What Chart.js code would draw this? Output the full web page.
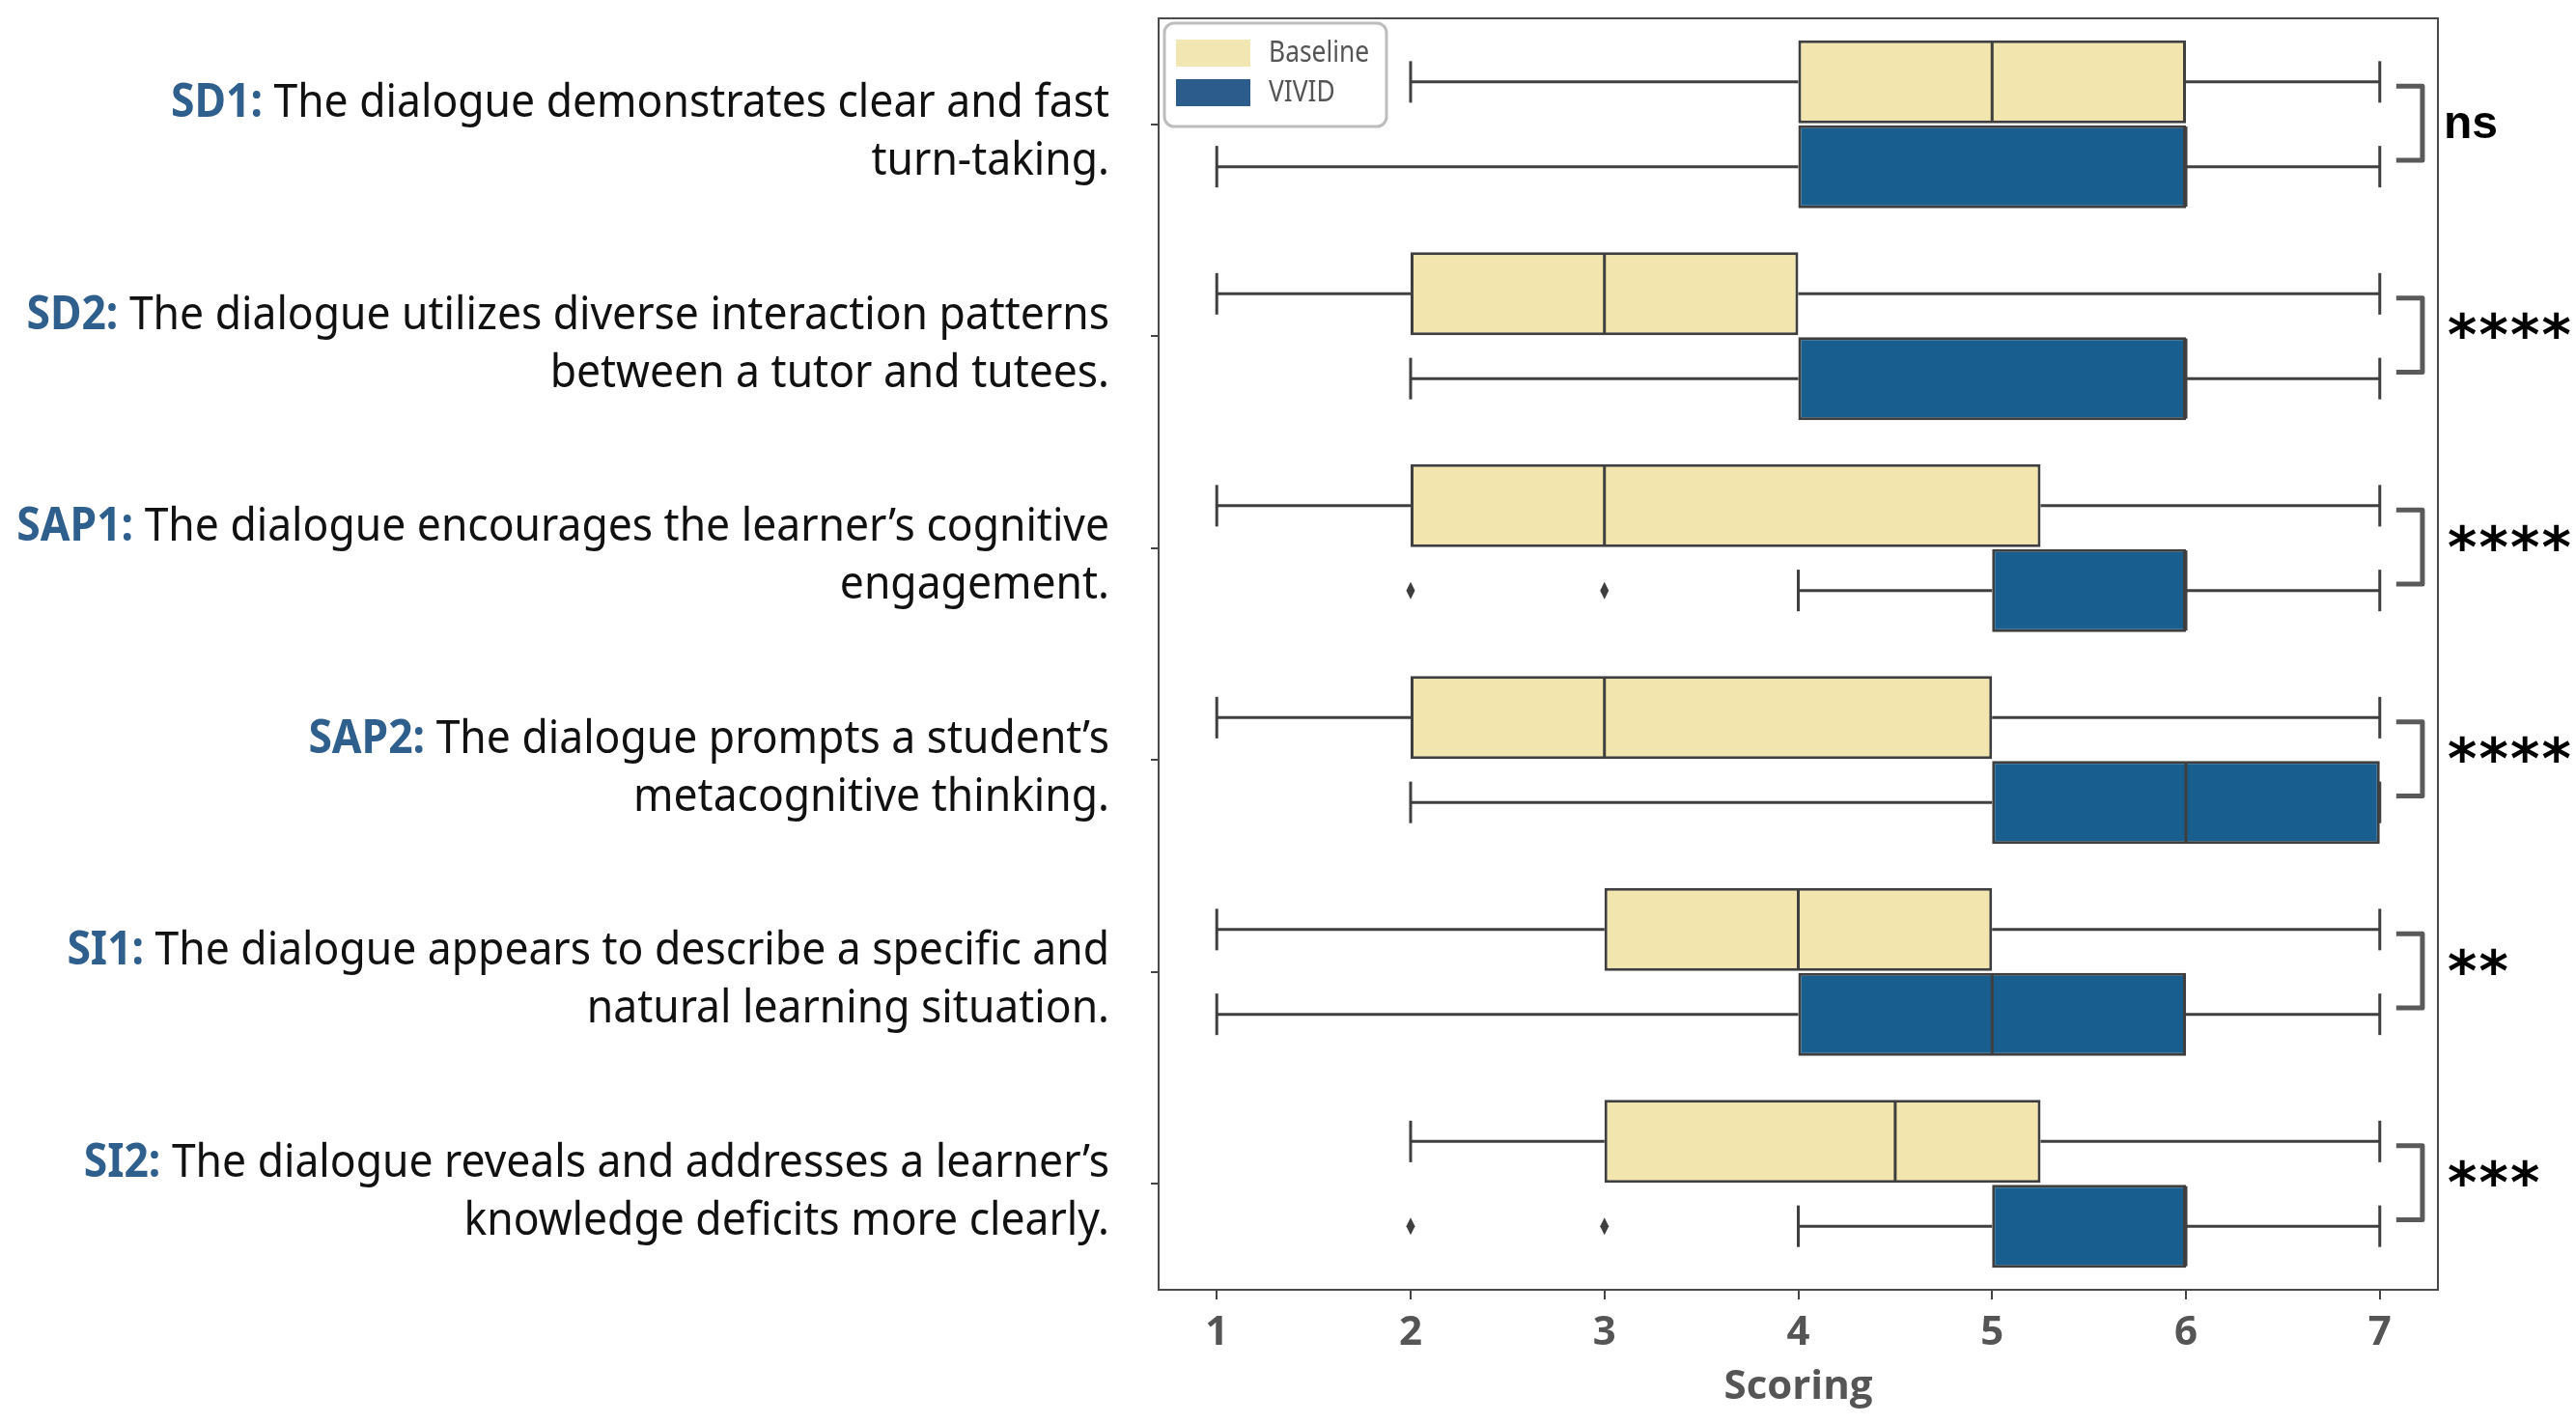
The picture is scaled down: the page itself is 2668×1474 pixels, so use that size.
<!DOCTYPE html>
<html>
<head>
<meta charset="utf-8">
<script src="https://cdn.jsdelivr.net/npm/chart.js@4.4.0/dist/chart.umd.min.js"></script>
<style>
    html, body { margin: 0; padding: 0; background: #fff; }
    #wrap { width: 2668px; height: 1474px; position: relative; }
</style>
</head>
<body>
<div id="wrap"><canvas id="box-chart"></canvas></div>
<script>
/* data */
var items = ['SD1', 'SD2', 'SAP1', 'SAP2', 'SI1', 'SI2'];
var itemText = [
    ['The dialogue demonstrates clear and fast', 'turn-taking.'],
    ['The dialogue utilizes diverse interaction patterns', 'between a tutor and tutees.'],
    ['The dialogue encourages the learner\u2019s cognitive', 'engagement.'],
    ['The dialogue prompts a student\u2019s', 'metacognitive thinking.'],
    ['The dialogue appears to describe a specific and', 'natural learning situation.'],
    ['The dialogue reveals and addresses a learner\u2019s', 'knowledge deficits more clearly.']
];
// [whisker low, q1, median, q3, whisker high]
var baselineStats = [
    [2, 4, 5, 6, 7],
    [1, 2, 3, 4, 7],
    [1, 2, 3, 5.25, 7],
    [1, 2, 3, 5, 7],
    [1, 3, 4, 5, 7],
    [2, 3, 4.5, 5.25, 7]
];
var vividStats = [
    [1, 4, 6, 6, 7],
    [2, 4, 6, 6, 7],
    [4, 5, 6, 6, 7],
    [2, 5, 6, 7, 7],
    [1, 4, 5, 6, 7],
    [4, 5, 6, 6, 7]
];
var baselineOutliers = [[], [], [], [], [], []];
var vividOutliers = [[], [], [2, 3], [], [], [2, 3]];
var significance = ['ns', '****', '****', '****', '**', '***'];
var xTicks = [1, 2, 3, 4, 5, 6, 7];

var edgeColor = '#3f3f3f';
var baselineFill = '#f2e6ae';
var vividFill = '#185e8f';

function drawLine(ctx, x0, y0, x1, y1) {
    ctx.beginPath();
    ctx.moveTo(x0, y0);
    ctx.lineTo(x1, y1);
    ctx.stroke();
}

// whiskers, caps, medians and outliers on top of the q1-q3 bars
var boxExtras = {
    id: 'boxExtras',
    afterDatasetsDraw: function (chart) {
        var ctx = chart.ctx;
        var xs = chart.scales.x;
        var groups = [[baselineStats, baselineOutliers], [vividStats, vividOutliers]];
        ctx.save();
        groups.forEach(function (g, d) {
            var meta = chart.getDatasetMeta(d);
            meta.data.forEach(function (bar, i) {
                var s = g[0][i];
                var y = bar.y;
                var h = bar.height;
                var px = s.map(function (v) { return xs.getPixelForValue(v); });
                ctx.strokeStyle = edgeColor;
                ctx.lineWidth = 3;
                drawLine(ctx, px[0], y, px[1], y);
                drawLine(ctx, px[3], y, px[4], y);
                drawLine(ctx, px[0], y - h / 4, px[0], y + h / 4);
                drawLine(ctx, px[4], y - h / 4, px[4], y + h / 4);
                drawLine(ctx, px[2], y - h / 2 + 1.5, px[2], y + h / 2 - 1.5);
                ctx.fillStyle = edgeColor;
                g[1][i].forEach(function (v) {
                    var ox = xs.getPixelForValue(v);
                    ctx.beginPath();
                    ctx.moveTo(ox, y - 9);
                    ctx.lineTo(ox + 4.5, y);
                    ctx.lineTo(ox, y + 9);
                    ctx.lineTo(ox - 4.5, y);
                    ctx.closePath();
                    ctx.fill();
                });
            });
        });
        ctx.restore();
    },
    afterDraw: function (chart) {
        var ctx = chart.ctx;
        var area = chart.chartArea;
        var xs = chart.scales.x;
        var ys = chart.scales.y;
        var step = ys.getPixelForValue(1) - ys.getPixelForValue(0);
        ctx.save();

        // frame
        ctx.strokeStyle = '#4a4a4a';
        ctx.lineWidth = 2;
        ctx.strokeRect(area.left, area.top, area.right - area.left, area.bottom - area.top);

        // significance brackets
        var bx0 = xs.getPixelForValue(7.085);
        var bx1 = xs.getPixelForValue(7.22);
        items.forEach(function (it, i) {
            var yc = ys.getPixelForValue(i);
            var y0 = yc - 0.18 * step;
            var y1 = yc + 0.17 * step;
            ctx.strokeStyle = '#5a5a5a';
            ctx.lineWidth = 5;
            ctx.lineJoin = 'round';
            ctx.beginPath();
            ctx.moveTo(bx0, y0);
            ctx.lineTo(bx1, y0);
            ctx.lineTo(bx1, y1);
            ctx.lineTo(bx0, y1);
            ctx.stroke();

            var tx = area.right + 6;
            var ty = (y0 + y1) / 2;
            ctx.fillStyle = '#000';
            ctx.textBaseline = 'middle';
            ctx.textAlign = 'left';
            if (significance[i] === 'ns') {
                ctx.font = 'bold 48px "Liberation Sans"';
                ctx.fillText('ns', tx, ty + 2);
            } else {
                ctx.font = 'bold 58px "DejaVu Sans"';
                for (var k = 0; k < significance[i].length; k++) {
                    ctx.fillText('*', tx + 4 + k * 32.5, ty + 5);
                }
            }
        });

        // category labels, right aligned left of the axis
        var rightX = 1149;
        ctx.font = '48px "Noto Sans"';
        var ref = ctx.measureText(itemText[0][0]).width;
        ctx.font = 'bold 48px "Noto Sans"';
        ref += ctx.measureText(items[0] + ': ').width;
        var sx = 972 / ref;
        items.forEach(function (it, i) {
            var yc = ys.getPixelForValue(i);
            ctx.textBaseline = 'middle';
            ctx.textAlign = 'left';
            ctx.font = '48px "Noto Sans"';
            var w1 = ctx.measureText(itemText[i][0]).width;
            var w2 = ctx.measureText(itemText[i][1]).width;
            ctx.font = 'bold 48px "Noto Sans"';
            var wp = ctx.measureText(it + ': ').width;

            ctx.save();
            ctx.translate(rightX, yc - 21);
            ctx.scale(sx, 1);
            ctx.font = 'bold 48px "Noto Sans"';
            ctx.fillStyle = '#2e5f8d';
            ctx.fillText(it + ':', -(w1 + wp), 0);
            ctx.font = '48px "Noto Sans"';
            ctx.fillStyle = '#111';
            ctx.fillText(itemText[i][0], -w1, 0);
            ctx.restore();

            ctx.save();
            ctx.translate(rightX, yc + 39);
            ctx.scale(sx, 1);
            ctx.font = '48px "Noto Sans"';
            ctx.fillStyle = '#111';
            ctx.fillText(itemText[i][1], -w2, 0);
            ctx.restore();
        });

        // legend box in the upper left corner of the plot
        var lx = area.left + 6;
        var ly = area.top + 5;
        ctx.fillStyle = 'rgba(255,255,255,0.85)';
        ctx.strokeStyle = '#bdbdbd';
        ctx.lineWidth = 3;
        ctx.beginPath();
        ctx.roundRect(lx, ly, 230, 107, 10);
        ctx.fill();
        ctx.stroke();
        var names = ['Baseline', 'VIVID'];
        var patches = ['#f2e7b3', '#2c5c8b'];
        names.forEach(function (n, k) {
            var py = ly + 17 + k * 41;
            ctx.fillStyle = patches[k];
            ctx.fillRect(lx + 12, py, 77, 28);
            ctx.save();
            ctx.translate(lx + 108, py + 14);
            ctx.scale(0.85, 1);
            ctx.font = '31px "Noto Sans"';
            ctx.fillStyle = '#555';
            ctx.textBaseline = 'middle';
            ctx.fillText(n, 0, 0);
            ctx.restore();
        });
        ctx.restore();
    }
};

var config = {
    type: 'bar',
    data: {
        labels: items,
        datasets: [{
            label: 'Baseline',
            data: baselineStats.map(function (s) { return [s[1], s[3]]; }),
            backgroundColor: baselineFill,
            borderColor: edgeColor,
            borderWidth: 3,
            borderSkipped: false,
            categoryPercentage: 0.8,
            barPercentage: 0.98
        }, {
            label: 'VIVID',
            data: vividStats.map(function (s) { return [s[1], s[3]]; }),
            backgroundColor: vividFill,
            borderColor: edgeColor,
            borderWidth: 3,
            borderSkipped: false,
            categoryPercentage: 0.8,
            barPercentage: 0.98
        }]
    },
    options: {
        indexAxis: 'y',
        responsive: true,
        maintainAspectRatio: false,
        animation: false,
        devicePixelRatio: 1,
        layout: {
            padding: { left: 1188, right: 143, top: 19, bottom: 0 }
        },
        plugins: {
            legend: { display: false },
            tooltip: { enabled: false }
        },
        scales: {
            x: {
                type: 'linear',
                min: 0.7,
                max: 7.3,
                afterBuildTicks: function (scale) {
                    scale.ticks = xTicks.map(function (v) { return { value: v }; });
                },
                afterFit: function (scale) { scale.height = 138; },
                grid: { drawOnChartArea: false, drawTicks: true, tickLength: 10, color: '#444', lineWidth: 2 },
                border: { display: false },
                ticks: {
                    padding: 10,
                    color: '#555',
                    font: { family: 'Open Sans', weight: 'bold', size: 42 }
                },
                title: {
                    display: true,
                    text: 'Scoring',
                    color: '#555',
                    font: { family: 'Open Sans', weight: 'bold', size: 42, lineHeight: 1 },
                    padding: { top: 0, bottom: 16 }
                }
            },
            y: {
                type: 'category',
                afterFit: function (scale) { scale.width = 12; },
                grid: { offset: false, drawOnChartArea: false, drawTicks: true, tickLength: 8, color: '#444', lineWidth: 2 },
                border: { display: false },
                ticks: { display: false }
            }
        }
    },
    plugins: [boxExtras]
};

var ctx = document.getElementById('box-chart').getContext('2d');
var boxChart = new Chart(ctx, config);
</script>
</body>
</html>
